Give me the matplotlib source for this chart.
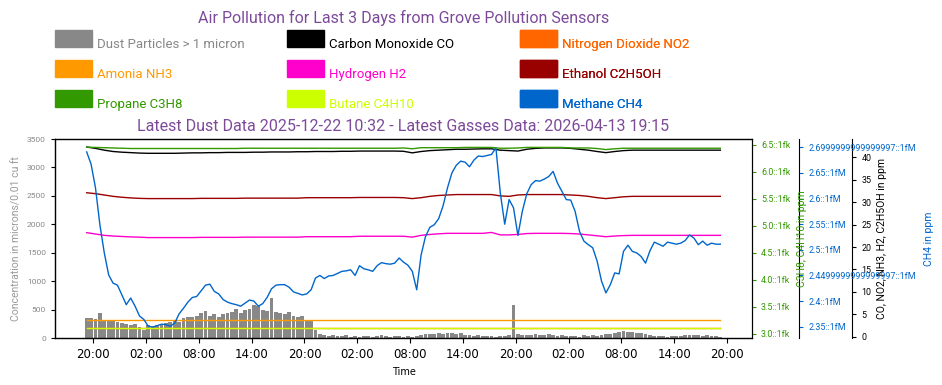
import datetime as dt
import matplotlib
matplotlib.use("Agg")
import matplotlib.pyplot as plt
import matplotlib.dates as mdates
from matplotlib.patches import Patch, Rectangle
from matplotlib.legend_handler import HandlerPatch
from matplotlib.ticker import MultipleLocator

plt.rcParams['font.family'] = ['Roboto', 'DejaVu Sans']

title_top = "Air Pollution for Last 3 Days from Grove Pollution Sensors"
title_sub = "Latest Dust Data 2025-12-22 10:32 - Latest Gasses Data: 2026-04-13 19:15"
purple = '#7D4A9A'

names = ["Dust Particles > 1 micron", "Carbon Monoxide CO", "Nitrogen Dioxide NO2",
         "Amonia NH3", "Hydrogen H2", "Ethanol C2H5OH",
         "Propane C3H8", "Butane C4H10", "Methane CH4"]
colors = ['#888888', '#000000', '#FF6600',
          '#FF9900', '#FF00CC', '#990000',
          '#339900', '#CCFF00', '#0066CC']

start = dt.datetime(2026, 4, 10, 19, 15)

# dust, particles/0.01 cu ft, every 30 min
dust = [350, 360, 340, 440, 330, 320, 300, 280, 260, 250, 240, 250, 200, 150, 230, 220, 235, 240,
        260, 290, 300, 290, 350, 370, 380, 400, 450, 480, 400, 420, 380, 430, 450, 470, 520, 440,
        500, 520, 590, 560, 500, 480, 700, 470, 440, 420, 460, 400, 380, 400, 330, 320, 150, 70,
        60, 45, 50, 40, 35, 55, 30, 40, 25, 45, 35, 30, 40, 50, 35, 30, 45, 40,
        30, 35, 25, 40, 60, 75, 80, 70, 90, 75, 85, 95, 70, 90, 60, 50, 45, 55, 40,
        35, 45, 30, 40, 35, 60, 580, 70, 55, 60, 50, 75, 65, 55, 70, 50, 45, 60,
        40, 35, 45, 30, 50, 40, 55, 45, 60, 70, 75, 90, 110, 120, 115, 105, 100, 85,
        70, 55, 45, 40, 35, 30, 40, 35, 45, 50, 55, 60, 50, 45, 55, 40, 35, 30]

# methane ppm, every 30 min
ch4 = [2.691, 2.667, 2.621, 2.549, 2.494, 2.451, 2.435, 2.431, 2.412, 2.393, 2.406, 2.390,
       2.371, 2.364, 2.351, 2.349, 2.352, 2.355, 2.354, 2.351, 2.357, 2.375, 2.386, 2.398,
       2.407, 2.409, 2.420, 2.431, 2.433, 2.419, 2.414, 2.403, 2.398, 2.395, 2.393, 2.390,
       2.396, 2.402, 2.400, 2.390, 2.395, 2.407, 2.424, 2.431, 2.432, 2.432, 2.427, 2.418,
       2.415, 2.412, 2.414, 2.422, 2.445, 2.450, 2.444, 2.449, 2.450, 2.454, 2.458, 2.459,
       2.461, 2.450, 2.469, 2.463, 2.461, 2.458, 2.469, 2.475, 2.473, 2.472, 2.474, 2.484,
       2.476, 2.470, 2.458, 2.422, 2.490, 2.526, 2.544, 2.549, 2.561, 2.586, 2.621, 2.650,
       2.665, 2.673, 2.671, 2.662, 2.675, 2.683, 2.682, 2.684, 2.686, 2.699, 2.611, 2.550,
       2.598, 2.582, 2.528, 2.575, 2.609, 2.627, 2.635, 2.634, 2.638, 2.643, 2.653, 2.630, 2.614,
       2.598, 2.597, 2.575, 2.536, 2.517, 2.510, 2.504, 2.478, 2.439, 2.416, 2.432, 2.455,
       2.453, 2.497, 2.509, 2.497, 2.494, 2.487, 2.474, 2.498, 2.515, 2.511, 2.507, 2.515,
       2.513, 2.511, 2.513, 2.518, 2.529, 2.523, 2.510, 2.517, 2.509, 2.513, 2.511, 2.511]

# other gases, hourly
co = [42.3, 42.0, 41.6, 41.3, 41.15, 41.05, 40.95, 40.9, 40.9, 40.9, 40.9, 40.95, 41.0, 41.0, 41.05, 41.05, 41.1, 41.1,
      41.1, 41.15, 41.15, 41.2, 41.2, 41.2, 41.25, 41.25, 41.3, 41.3, 41.3, 41.35, 41.35, 41.4, 41.4, 41.4, 41.4, 41.4,
      41.35, 41.0, 41.3, 41.5, 41.6, 41.7, 41.8, 41.8, 41.85, 41.9, 41.9, 41.6, 41.5, 41.4, 41.8, 42.0, 42.1, 42.1, 42.1,
      42.0, 41.8, 41.6, 41.3, 41.05, 41.3, 41.5, 41.6, 41.6, 41.6, 41.6, 41.6, 41.6, 41.6, 41.6, 41.6, 41.6, 41.6]
no2 = [1.92, 1.92, 1.92, 1.92, 1.92, 1.92, 1.92, 1.92, 1.92, 1.92, 1.92, 1.92, 1.92, 1.92, 1.92, 1.92, 1.92, 1.92,
       1.92, 1.92, 1.92, 1.92, 1.92, 1.92, 1.92, 1.92, 1.92, 1.92, 1.92, 1.92, 1.92, 1.92, 1.92, 1.92, 1.92, 1.92,
       1.92, 1.92, 1.92, 1.92, 1.92, 1.92, 1.92, 1.92, 1.92, 1.92, 1.92, 1.92, 1.92, 1.92, 1.92, 1.92, 1.92, 1.92, 1.92,
       1.92, 1.92, 1.92, 1.92, 1.92, 1.92, 1.92, 1.92, 1.92, 1.92, 1.92, 1.92, 1.92, 1.92, 1.92, 1.92, 1.92, 1.92]
nh3 = [3.66, 3.66, 3.66, 3.66, 3.66, 3.66, 3.66, 3.66, 3.66, 3.66, 3.66, 3.66, 3.66, 3.66, 3.66, 3.66, 3.66, 3.66,
       3.66, 3.66, 3.66, 3.66, 3.66, 3.66, 3.66, 3.66, 3.66, 3.66, 3.66, 3.66, 3.66, 3.66, 3.66, 3.66, 3.66, 3.66,
       3.66, 3.66, 3.66, 3.66, 3.66, 3.66, 3.66, 3.66, 3.66, 3.66, 3.66, 3.66, 3.66, 3.66, 3.66, 3.66, 3.66, 3.66, 3.66,
       3.66, 3.66, 3.66, 3.66, 3.66, 3.66, 3.66, 3.66, 3.66, 3.66, 3.66, 3.66, 3.66, 3.66, 3.66, 3.66, 3.66, 3.66]
h2 = [23.2, 22.9, 22.6, 22.45, 22.35, 22.25, 22.2, 22.1, 22.1, 22.1, 22.1, 22.1, 22.1, 22.15, 22.15, 22.15, 22.15, 22.15,
      22.2, 22.2, 22.2, 22.2, 22.2, 22.2, 22.2, 22.3, 22.3, 22.3, 22.3, 22.3, 22.3, 22.4, 22.4, 22.4, 22.4, 22.4,
      22.4, 22.2, 22.6, 22.8, 22.95, 23.05, 23.05, 23.05, 23.05, 23.05, 23.25, 22.7, 22.7, 22.8, 23.0, 23.05, 23.05, 23.05, 23.05,
      23.0, 22.9, 22.7, 22.5, 22.3, 22.45, 22.55, 22.6, 22.6, 22.6, 22.6, 22.6, 22.6, 22.6, 22.6, 22.6, 22.6, 22.6]
ethanol = [32.1, 31.9, 31.6, 31.3, 31.1, 30.95, 30.85, 30.8, 30.8, 30.8, 30.8, 30.8, 30.8, 30.85, 30.85, 30.85, 30.85, 30.85,
           30.9, 30.9, 30.9, 30.9, 30.9, 30.9, 30.9, 31.0, 31.0, 31.0, 31.0, 31.0, 31.0, 31.05, 31.05, 31.05, 31.05, 31.05,
           31.0, 30.8, 31.0, 31.3, 31.5, 31.6, 31.7, 31.7, 31.7, 31.7, 31.7, 31.4, 31.3, 31.6, 31.7, 31.7, 31.7, 31.7, 31.7,
           31.6, 31.5, 31.3, 31.0, 30.8, 31.0, 31.2, 31.3, 31.3, 31.3, 31.3, 31.3, 31.3, 31.3, 31.3, 31.3, 31.3, 31.3]
propane = [6.46, 6.455, 6.45, 6.445, 6.44, 6.435, 6.435, 6.435, 6.435, 6.435, 6.435, 6.435, 6.435, 6.435, 6.435, 6.435, 6.435, 6.435,
           6.44, 6.44, 6.44, 6.44, 6.44, 6.44, 6.44, 6.44, 6.44, 6.44, 6.44, 6.44, 6.44, 6.44, 6.44, 6.44, 6.44, 6.44,
           6.445, 6.43, 6.45, 6.45, 6.45, 6.45, 6.45, 6.455, 6.455, 6.455, 6.455, 6.44, 6.44, 6.445, 6.455, 6.455, 6.455, 6.455, 6.455,
           6.445, 6.445, 6.445, 6.435, 6.415, 6.43, 6.44, 6.44, 6.44, 6.44, 6.44, 6.44, 6.44, 6.44, 6.44, 6.44, 6.44, 6.44]
butane = [3.11, 3.11, 3.11, 3.11, 3.11, 3.11, 3.11, 3.11, 3.11, 3.11, 3.11, 3.11, 3.11, 3.11, 3.11, 3.11, 3.11, 3.11,
          3.11, 3.11, 3.11, 3.11, 3.11, 3.11, 3.11, 3.11, 3.11, 3.11, 3.11, 3.11, 3.11, 3.11, 3.11, 3.11, 3.11, 3.11,
          3.11, 3.11, 3.11, 3.11, 3.11, 3.11, 3.11, 3.11, 3.11, 3.11, 3.11, 3.11, 3.11, 3.11, 3.11, 3.11, 3.11, 3.11, 3.11,
          3.11, 3.11, 3.11, 3.11, 3.11, 3.11, 3.11, 3.11, 3.11, 3.11, 3.11, 3.11, 3.11, 3.11, 3.11, 3.11, 3.11, 3.11]

green_ticks = [3.0, 3.5, 4.0, 4.5, 5.0, 5.5, 6.0, 6.5]
green_labels = ['3.0::1fk', '3.5::1fk', '4.0::1fk', '4.5::1fk', '5.0::1fk', '5.5::1fk', '6.0::1fk', '6.5::1fk']
blue_ticks = [2.35, 2.40, 2.45, 2.50, 2.55, 2.60, 2.65, 2.70]
blue_labels = ['2.35::1fM', '2.4::1fM', '2.4499999999999997::1fM', '2.5::1fM', '2.55::1fM',
               '2.6::1fM', '2.65::1fM', '2.6999999999999997::1fM']

t_half = [start + dt.timedelta(minutes=30 * i) for i in range(len(dust))]
t_hour = [start + dt.timedelta(hours=i) for i in range(len(co))]

fig = plt.figure(figsize=(9.42, 3.85), dpi=100)
ax = fig.add_axes([55 / 942, 1 - 338.3 / 385, 697 / 942, 199.3 / 385])
ax_k = ax.twinx()
ax_b = ax.twinx()
ax_g = ax.twinx()
ax_b.spines['right'].set_position(('outward', 47.3 * 0.72))
ax_k.spines['right'].set_position(('outward', 100.3 * 0.72))

ax.bar(t_half, dust, width=0.85 / 48, color=colors[0], linewidth=0)
ax_k.plot(t_hour, co, color=colors[1], lw=1)
ax_k.plot(t_hour, no2, color=colors[2], lw=1)
ax_k.plot(t_hour, nh3, color=colors[3], lw=1)
ax_k.plot(t_hour, h2, color=colors[4], lw=1)
ax_k.plot(t_hour, ethanol, color=colors[5], lw=1)
ax_g.plot(t_hour, propane, color=colors[6], lw=1)
ax_g.plot(t_hour, butane, color=colors[7], lw=1)
ax_b.plot(t_half, ch4, color=colors[8], lw=1)

pad = (t_half[-1] - t_half[0]) * 0.05
ax.set_xlim(t_half[0] - pad, t_half[-1] + pad)
ax.set_ylim(0, 3500)
ax.yaxis.set_major_locator(MultipleLocator(500))
ax.tick_params(axis='y', labelsize=6, labelcolor='#888888', length=3)
ax.set_ylabel("Concentration in microns/0.01 cu ft", color='#999999', fontsize=7.5)
ax.xaxis.set_major_locator(mdates.HourLocator(byhour=[2, 8, 14, 20]))
ax.xaxis.set_major_formatter(mdates.DateFormatter('%H:%M'))
for lab in ax.get_xticklabels():
    lab.set_fontfamily('DejaVu Sans')
    lab.set_fontsize(8.5)
ax.set_xlabel("Time", fontsize=7, fontfamily='DejaVu Sans')

ax_g.set_ylim(2.920, 6.611)
ax_g.set_yticks(green_ticks)
ax_g.set_yticklabels(green_labels)
ax_g.tick_params(axis='y', labelsize=6.4, colors=colors[6], length=3)
ax_g.set_ylabel("C3H8, C4H10 in ppm", color=colors[6], fontsize=7.5, labelpad=5)

ax_b.set_ylim(2.3274, 2.7162)
ax_b.set_yticks(blue_ticks)
ax_b.set_yticklabels(blue_labels)
ax_b.tick_params(axis='y', labelsize=6.4, colors=colors[8], length=3)
ax_b.set_ylabel("CH4 in ppm", color=colors[8], fontsize=7.5, labelpad=6)

ax_k.set_ylim(-0.36, 44.09)
ax_k.yaxis.set_major_locator(MultipleLocator(5))
ax_k.tick_params(axis='y', labelsize=6.4, length=3)
ax_k.set_ylabel("CO, NO2, NH3, H2, C2H5OH in ppm", fontsize=7.5, labelpad=4)

ax.set_title(title_sub, color=purple, fontsize=11.5, pad=6)
fig.text(403.5 / 942, 1 - 22.5 / 385, title_top, ha='center', va='baseline', fontsize=11.5, color=purple)


def tall_box(legend, orig_handle, xdescent, ydescent, width, height, fontsize):
    # square sits on the text baseline and rises above it
    return Rectangle((-xdescent, 0.7), width, 12.3)


col_x = [55, 287, 520]
for c in range(3):
    idx = [c, c + 3, c + 6]
    leg = ax.legend([Patch(color=colors[i]) for i in idx], [names[i] for i in idx],
                    loc='lower left', bbox_to_anchor=(col_x[c] / 942, 1 - 111 / 385),
                    bbox_transform=fig.transFigure, frameon=False, fontsize=9.5,
                    handlelength=2.8, handleheight=0.7, handletextpad=0.38, labelspacing=1.29,
                    borderpad=0, borderaxespad=0, labelcolor=[colors[i] for i in idx],
                    handler_map={Patch: HandlerPatch(patch_func=tall_box)})
    ax.add_artist(leg)

fig.savefig("out.png", dpi=100)
